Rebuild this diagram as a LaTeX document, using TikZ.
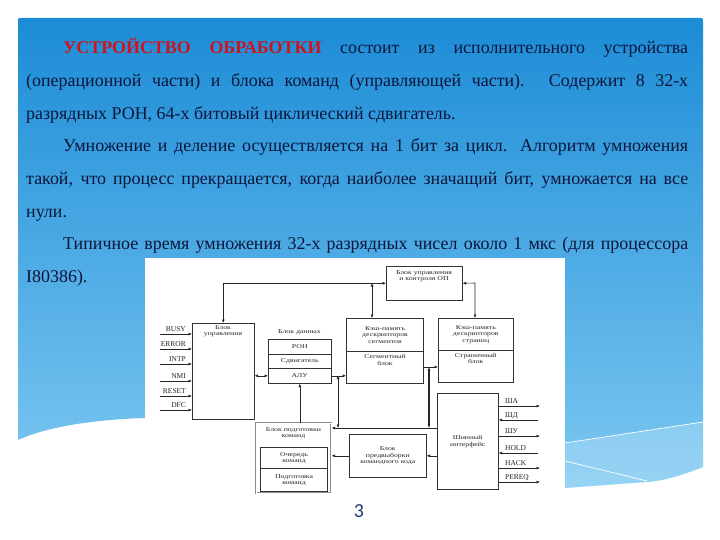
\documentclass[tikz,border=0pt]{standalone}
\usepackage{fontspec}
\setmainfont{Liberation Serif}
\newfontfamily\numfont{Carlito}
\newfontfamily\diagfont[FakeStretch=1.3]{Liberation Serif}
\usetikzlibrary{arrows.meta}
\definecolor{txt}{RGB}{12,22,58}
\definecolor{redtxt}{RGB}{205,20,30}
\definecolor{paneltop}{RGB}{28,140,214}
\definecolor{panelbot}{RGB}{125,200,242}
\definecolor{pgnum}{RGB}{30,60,110}
\begin{document}
\begin{tikzpicture}[x=1bp,y=-1bp,
  box/.style={draw=black!80, line width=0.6bp, fill=white, inner sep=0, anchor=north west},
  thickbox/.style={box, line width=1.1bp},
  line/.style={draw=black!85, line width=0.6bp},
  arr/.style={-{Latex[length=3.5bp,width=3bp]}},
  darr/.style={{Latex[length=3.5bp,width=3bp]}-{Latex[length=3.5bp,width=3bp]}},
  lbl/.style={font=\diagfont\fontsize{6}{6.6}\selectfont, align=center, inner sep=0, text=black!85},
  sig/.style={font=\fontsize{7.5}{8}\selectfont, inner sep=0, text=black!85},
  txtline/.style={anchor=base west, inner sep=0, text=txt, font=\fontsize{18}{20}\selectfont}
]
\useasboundingbox (0,0) rectangle (720,540);
\fill[white] (0,0) rectangle (720,540);
% panel
\shade[top color=paneltop, bottom color=panelbot]
  (18,440) -- (18,22) .. controls (18,18) .. (22,18) -- (699,18) .. controls (703,18) .. (703,22) -- (703,467)
  .. controls (685,474) and (665,481) .. (647,482) -- (565,488) -- (145,418)
  .. controls (80,420) and (40,430) .. (18,440) -- cycle;
\fill[white, opacity=0.2] (565,443) -- (703,422) -- (703,467)
  .. controls (685,474) and (665,481) .. (647,482) -- (565,488) -- cycle;
\draw[white, line width=0.7bp] (565,443) -- (703,422);
\draw[white, line width=0.7bp] (565,461) -- (647,481);
% text
\node[txtline] (l1) at (63,54) {\makebox[625bp][s]{\textcolor{redtxt}{\textbf{УСТРОЙСТВО ОБРАБОТКИ}} состоит из исполнительного устройства}};
\node[txtline] (l2) at (26,87) {\makebox[662bp][s]{(операционной части) и блока команд (управляющей части). Содержит 8 32-х}};
\node[txtline] (l3) at (26,120) {разрядных РОН, 64-х битовый циклический сдвигатель.};
\node[txtline] (l4) at (63,152) {\makebox[625bp][s]{Умножение и деление осуществляется на 1 бит за цикл. Алгоритм умножения}};
\node[txtline] (l5) at (26,185) {\makebox[662bp][s]{такой, что процесс прекращается, когда наиболее значащий бит, умножается на все}};
\node[txtline] (l6) at (26,218) {нули.};
\node[txtline] (l7) at (63,250) {\makebox[625bp][s]{Типичное время умножения 32-х разрядных чисел около 1 мкс (для процессора}};
\node[txtline] (l8) at (26,283) {I80386).};
% diagram area
\fill[white] (145,258) rectangle (565,500);
% boxes
\node[box, minimum width=62bp, minimum height=96bp] (bu) at (192,323) {};
\node[lbl] (bul) at (223,331) {Блок\\управления};
\node[box, minimum width=76bp, minimum height=34bp] (op) at (386,266) {};
\node[lbl] (opl) at (424,276) {Блок управления\\и контроля ОП};
\node[lbl] (datl) at (299.5,332) {Блок данных};
\node[box, minimum width=63bp, minimum height=15bp, lbl] (ron) at (268,339) {РОН};
\node[box, minimum width=63bp, minimum height=14bp, lbl] (sdv) at (268,354) {Сдвигатель};
\node[box, minimum width=63bp, minimum height=15bp, lbl] (alu) at (268,368) {АЛУ};
\node[thickbox, minimum width=77bp, minimum height=33bp, lbl] (segc) at (346,318) {Кэш-память\\дескрипторов\\сегментов};
\node[thickbox, minimum width=77bp, minimum height=32bp, lbl] (segb) at (346,351) {Сегментный\\блок\\[9bp]};
\node[box, minimum width=75bp, minimum height=32bp, lbl] (pagc) at (438,318) {Кэш-память\\дескрипторов\\страниц};
\node[box, minimum width=75bp, minimum height=32bp, lbl] (pagb) at (438,350) {Страничный\\блок\\[9bp]};
\node[box, minimum width=61bp, minimum height=96bp, lbl] (bus) at (437,393) {Шинный\\интерфейс};
\node[box, minimum width=77bp, minimum height=43bp, lbl] (pf) at (349,434) {Блок\\предвыборки\\командного кода};
\node[box, draw=black!45, double=white, double distance=0.6bp, minimum width=75bp, minimum height=70bp] (prep) at (256,423) {};
\node[lbl] (prepl) at (293.5,433) {Блок подготовки\\команд};
\node[thickbox, minimum width=67bp, minimum height=21bp, lbl] (q) at (260,447) {Очередь\\команд};
\node[thickbox, minimum width=67bp, minimum height=23bp, lbl] (pp) at (260,468) {Подготовка\\команд};
% connectors
\coordinate (j1) at (372,283);
\coordinate (j2) at (475,283);
\coordinate (j3) at (338,375.5);
\coordinate (j4) at (338,428);
\coordinate (j6) at (429,367);
\coordinate (j5) at (429,428);
\draw[line, darr] (bu.north) |- (op.west);
\draw[line, darr] (j1) -- (j1 |- segc.north);
\draw[line, darr] (op.east) -- (j2) -- (j2 |- pagc.north);
\draw[line, darr] (bu.east |- alu.west) -- (alu.west);
\draw[line, arr] (alu.east) -- (alu.east -| segb.west);
\draw[line, darr] (j3) -- (j4);
\draw[line, arr] (bus.west |- j4) -- (prep.east |- j4);
\draw[line, arr] (segb.east |- j6) -- (pagb.west |- j6);
\draw[draw=black!85, line width=1.2bp, darr] (j6) -- (j5);
\draw[line, arr] (alu.south |- prep.north) -- (alu.south);
\draw[line, arr] (bus.west |- pf.east) -- (pf.east);
\draw[line, arr] (pf.west) -- (pf.west -| prep.east);
% left signals
\foreach \n/\t/\y in {a/BUSY/334, b/ERROR/349, c/INTP/364, d/NMI/381, e/RESET/396, f/DFC/410}{
  \coordinate (s\n) at (160,\y);
  \draw[line, arr] (s\n) -- (s\n -| bu.west);
  \node[sig, anchor=base east] (sl\n) at (186,\y-2.5) {\t};
}
% right signals
\foreach \n/\t/\y in {a/ША/406, c/ШУ/436, e/HACK/468, f/PEREQ/482}{
  \coordinate (r\n) at (540,\y);
  \draw[line, arr] (r\n -| bus.east) -- (r\n);
  \node[sig, anchor=base west] (rl\n) at (505,\y-2.5) {\t};
}
\foreach \n/\t/\y in {b/ШД/420, d/HOLD/453}{
  \coordinate (r\n) at (538,\y);
  \draw[line, arr] (r\n) -- (r\n -| bus.east);
  \node[sig, anchor=base west] (rl\n) at (505,\y-2.5) {\t};
}
% page number
\node[font=\numfont\fontsize{20}{20}\selectfont, text=pgnum, inner sep=0] (pg) at (359,511) {3};
\end{tikzpicture}
\end{document}
